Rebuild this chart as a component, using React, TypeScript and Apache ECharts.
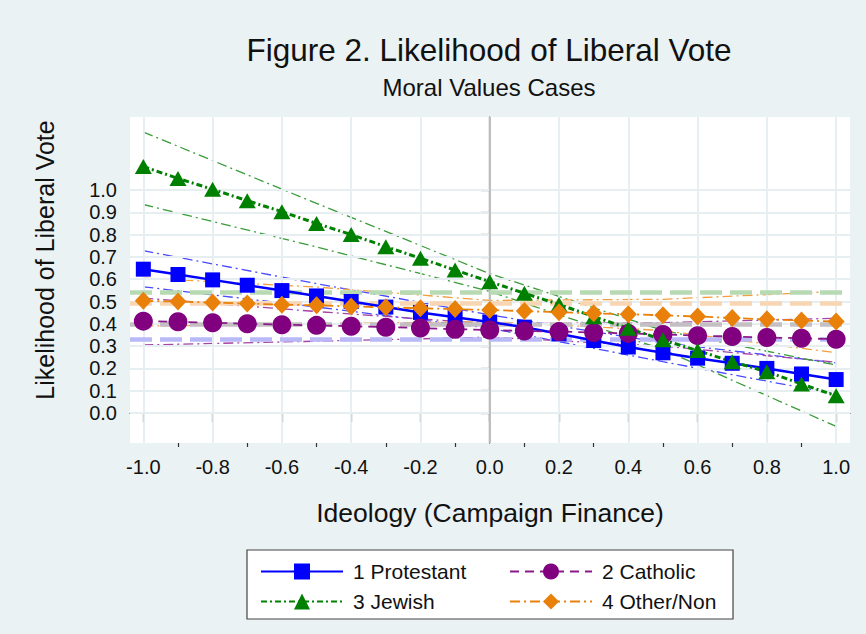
import React, { useEffect, useRef } from "react";
import * as echarts from "echarts";

// ---- data ----
const X_VALUES = [-1.0, -0.9, -0.8, -0.7, -0.6, -0.5, -0.4, -0.3, -0.2, -0.1, 0.0, 0.1, 0.2, 0.3, 0.4, 0.5, 0.6, 0.7, 0.8, 0.9, 1.0];
const PROTESTANT = [0.645, 0.621, 0.597, 0.573, 0.549, 0.525, 0.5, 0.475, 0.451, 0.429, 0.408, 0.385, 0.355, 0.325, 0.296, 0.27, 0.246, 0.223, 0.2, 0.175, 0.15];
const CATHOLIC = [0.412, 0.409, 0.405, 0.4, 0.396, 0.393, 0.389, 0.385, 0.381, 0.376, 0.372, 0.368, 0.365, 0.361, 0.357, 0.352, 0.347, 0.343, 0.339, 0.335, 0.331];
const JEWISH = [1.105, 1.052, 1.003, 0.952, 0.903, 0.85, 0.8, 0.746, 0.694, 0.641, 0.589, 0.537, 0.487, 0.432, 0.38, 0.328, 0.28, 0.23, 0.185, 0.13, 0.077];
const OTHER = [0.503, 0.5, 0.495, 0.491, 0.486, 0.483, 0.478, 0.474, 0.47, 0.466, 0.462, 0.457, 0.452, 0.447, 0.443, 0.438, 0.433, 0.426, 0.42, 0.415, 0.41];

const CI_X = [-1.0, -0.5, 0.0, 0.5, 1.0];
const PROTESTANT_UPPER = [0.728, 0.58, 0.44, 0.315, 0.225];
const PROTESTANT_LOWER = [0.566, 0.475, 0.38, 0.23, 0.085];
const CATHOLIC_UPPER = [0.515, 0.455, 0.4, 0.405, 0.425];
const CATHOLIC_LOWER = [0.305, 0.322, 0.34, 0.3, 0.228];
const JEWISH_UPPER = [1.26, 0.94, 0.625, 0.37, 0.215];
const JEWISH_LOWER = [0.935, 0.745, 0.545, 0.285, -0.06];
const OTHER_UPPER = [0.605, 0.565, 0.505, 0.51, 0.545];
const OTHER_LOWER = [0.39, 0.4, 0.41, 0.37, 0.27];

const MEAN_PROTESTANT = 0.332;
const MEAN_CATHOLIC = 0.395;
const MEAN_JEWISH = 0.544;
const MEAN_OTHER = 0.492;

const Y_TICKS = [0.0, 0.1, 0.2, 0.3, 0.4, 0.5, 0.6, 0.7, 0.8, 0.9, 1.0];
const X_MAJOR = [-1.0, -0.8, -0.6, -0.4, -0.2, 0.0, 0.2, 0.4, 0.6, 0.8, 1.0];
const X_MINOR = [-0.9, -0.7, -0.5, -0.3, -0.1, 0.1, 0.3, 0.5, 0.7, 0.9];
const ZERO_LINE = 0.0;

const NAMES = ["1 Protestant", "2 Catholic", "3 Jewish", "4 Other/Non"];

const FONT = "'Liberation Sans', Arial, Helvetica, sans-serif";

const pair = (xs: number[], ys: number[]) => xs.map((x, i) => [x, ys[i]]);

export default function App() {
  const ref = useRef<HTMLDivElement>(null);

  useEffect(() => {
    if (!ref.current) return;
    const chart = echarts.init(ref.current, undefined, { renderer: "svg" });

    const ciStyle = (color: string) => ({ color, width: 1.3, type: [10, 4, 2, 4] as any });
    const ciSeries = (name: string, ys: number[], color: string) => ({
      name,
      type: "line",
      data: pair(CI_X, ys),
      symbol: "none",
      silent: true,
      z: 3,
      lineStyle: ciStyle(color),
    });

    const meanLine = (v: number, color: string) => ({
      yAxis: v,
      lineStyle: { color, width: 4.5, type: [22, 8] as any },
    });

    const legendBase = {
      orient: "vertical",
      top: 556,
      itemWidth: 82,
      itemHeight: 20,
      itemGap: 9,
      selectedMode: false,
      textStyle: { fontSize: 21, color: "#111", fontFamily: FONT, padding: [0, 0, 0, 5] },
    };

    const option: any = {
      animation: false,
      backgroundColor: "#eaf2f3",
      textStyle: { fontFamily: FONT },
      grid: {
        left: 130,
        top: 117,
        width: 720,
        height: 326,
        show: true,
        backgroundColor: "#ffffff",
        borderWidth: 0,
      },
      graphic: [
        {
          type: "text",
          x: 489,
          y: 50,
          style: {
            text: "Figure 2. Likelihood of Liberal Vote",
            fontSize: 31.5,
            fontFamily: FONT,
            fill: "#111",
            align: "center",
            verticalAlign: "middle",
          },
        },
        {
          type: "text",
          x: 489,
          y: 87,
          style: {
            text: "Moral Values Cases",
            fontSize: 24,
            fontFamily: FONT,
            fill: "#111",
            align: "center",
            verticalAlign: "middle",
          },
        },
        {
          type: "text",
          x: 45,
          y: 260,
          rotation: Math.PI / 2,
          style: {
            text: "Likelihood of Liberal Vote",
            fontSize: 25,
            fontFamily: FONT,
            fill: "#111",
            align: "center",
            verticalAlign: "middle",
          },
        },
        {
          type: "text",
          x: 490,
          y: 513,
          style: {
            text: "Ideology (Campaign Finance)",
            fontSize: 26.5,
            fontFamily: FONT,
            fill: "#111",
            align: "center",
            verticalAlign: "middle",
          },
        },
        {
          type: "rect",
          z: -1,
          shape: { x: 247, y: 550, width: 486, height: 69 },
          style: { fill: "#ffffff", stroke: "#444", lineWidth: 1.2 },
        },
      ],
      legend: [
        { ...legendBase, data: [NAMES[0], NAMES[2]], left: 255 },
        { ...legendBase, data: [NAMES[1], NAMES[3]], left: 504 },
      ],
      xAxis: [
        {
          type: "value",
          min: -1.0385,
          max: 1.04,
          axisLine: { show: true, lineStyle: { color: "#333", width: 1.2 } },
          axisTick: { show: true, customValues: X_MAJOR, length: 9, lineStyle: { color: "#333", width: 1.2 } },
          axisLabel: {
            customValues: X_MAJOR,
            formatter: (v: number) => v.toFixed(1),
            fontSize: 20,
            color: "#111",
            margin: 14,
            fontFamily: FONT,
          },
          splitLine: { show: false },
        },
        {
          type: "value",
          min: -1.0385,
          max: 1.04,
          position: "bottom",
          axisLine: { show: false },
          axisTick: { show: true, customValues: X_MINOR, length: 4, lineStyle: { color: "#333", width: 1.2 } },
          axisLabel: { show: false },
          splitLine: { show: false },
        },
      ],
      yAxis: {
        type: "value",
        min: -0.1345,
        max: 1.3274,
        axisLine: { show: true, lineStyle: { color: "#333", width: 1.2 } },
        axisTick: { show: true, customValues: Y_TICKS, length: 9, lineStyle: { color: "#333", width: 1.2 } },
        axisLabel: {
          customValues: Y_TICKS,
          formatter: (v: number) => v.toFixed(1),
          fontSize: 20,
          color: "#111",
          margin: 13,
          fontFamily: FONT,
        },
        splitLine: { show: false },
      },
      series: [
        {
          name: "gridlines",
          type: "line",
          data: [],
          silent: true,
          z: 1,
          markLine: {
            silent: true,
            symbol: "none",
            label: { show: false },
            emphasis: { disabled: true },
            lineStyle: { color: "#e6eef1", width: 1.8, type: "solid" },
            data: [
              ...Y_TICKS.map((v) => ({ yAxis: v })),
              ...X_MAJOR.map((v) => ({ xAxis: v })),
              { xAxis: ZERO_LINE, lineStyle: { color: "#b4b4b4", width: 1.6, type: "solid" } },
            ],
          },
        },
        {
          name: "means",
          type: "line",
          data: [],
          silent: true,
          z: 2,
          markLine: {
            silent: true,
            symbol: "none",
            label: { show: false },
            emphasis: { disabled: true },
            data: [
              meanLine(MEAN_JEWISH, "#b7dab3"),
              meanLine(MEAN_OTHER, "#f8d6b3"),
              meanLine(MEAN_CATHOLIC, "#c3bfc3"),
              meanLine(MEAN_PROTESTANT, "#b9b9f8"),
            ],
          },
        },
        ciSeries("ci_p_hi", PROTESTANT_UPPER, "#4a4aff"),
        ciSeries("ci_p_lo", PROTESTANT_LOWER, "#4a4aff"),
        ciSeries("ci_c_hi", CATHOLIC_UPPER, "#a544a5"),
        ciSeries("ci_c_lo", CATHOLIC_LOWER, "#a544a5"),
        ciSeries("ci_j_hi", JEWISH_UPPER, "#3a9d3a"),
        ciSeries("ci_j_lo", JEWISH_LOWER, "#3a9d3a"),
        ciSeries("ci_o_hi", OTHER_UPPER, "#f0a040"),
        ciSeries("ci_o_lo", OTHER_LOWER, "#f0a040"),
        {
          name: NAMES[0],
          type: "line",
          data: pair(X_VALUES, PROTESTANT),
          symbol: "rect",
          symbolSize: 15,
          z: 5,
          itemStyle: { color: "#0000ff" },
          lineStyle: { color: "#0000ff", width: 2.5, type: "solid" },
        },
        {
          name: NAMES[1],
          type: "line",
          data: pair(X_VALUES, CATHOLIC),
          symbol: "circle",
          symbolSize: 19,
          z: 5,
          itemStyle: { color: "#800080" },
          lineStyle: { color: "#8a1a8a", width: 1.8, type: [9, 6] },
        },
        {
          name: NAMES[2],
          type: "line",
          data: pair(X_VALUES, JEWISH),
          symbol: "triangle",
          symbolSize: [17, 15],
          z: 5,
          itemStyle: { color: "#008000" },
          lineStyle: { color: "#008000", width: 3, type: [6, 3, 2, 3] },
        },
        {
          name: NAMES[3],
          type: "line",
          data: pair(X_VALUES, OTHER),
          symbol: "diamond",
          symbolSize: [17, 18],
          z: 5,
          itemStyle: { color: "#e8800a" },
          lineStyle: { color: "#e8800a", width: 1.8, type: [10, 4, 2, 4] },
        },
      ],
    };

    chart.setOption(option);
    return () => chart.dispose();
  }, []);

  return (
    <div
      ref={ref}
      style={{ position: "fixed", left: 0, top: 0, width: 866, height: 634 }}
    />
  );
}
